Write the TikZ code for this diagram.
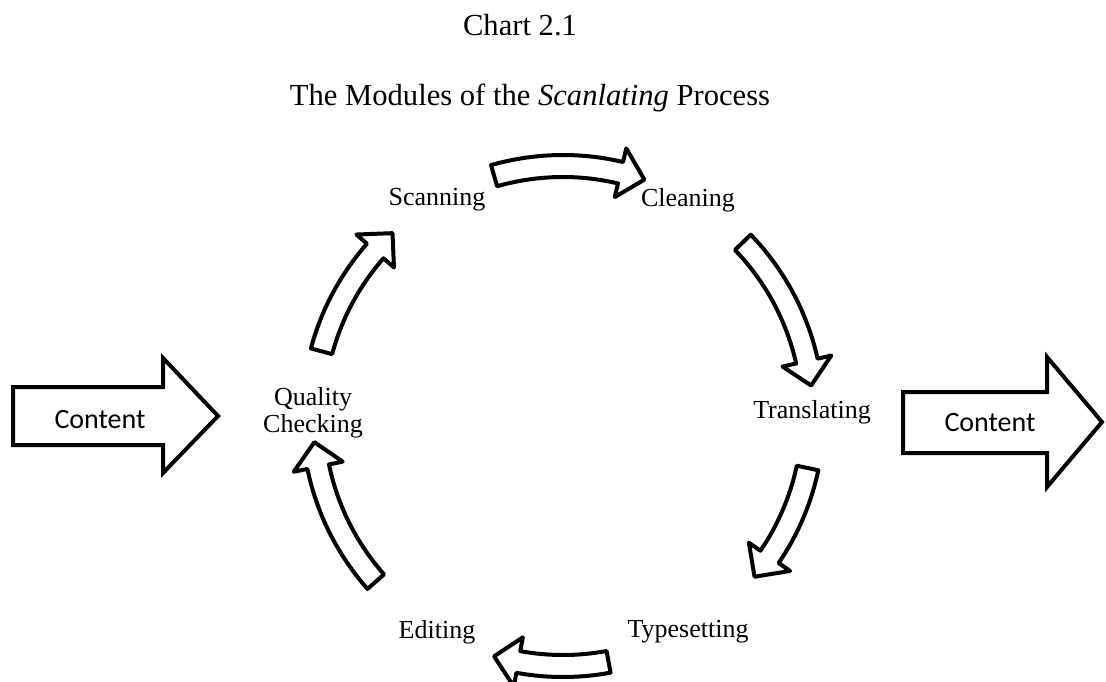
\documentclass[tikz,border=0pt]{standalone}
\usepackage{fontspec}
\setmainfont{Liberation Serif}
\newfontfamily\calibri{Carlito}
\begin{document}
\begin{tikzpicture}[
        x=0.5pt, y=-0.5pt,
        line join=round,
        % 文字样式
        heading/.style={font=\fontsize{15.3}{17}\selectfont, inner sep=0pt},
        label/.style={font=\fontsize{13}{13.5}\selectfont, inner sep=0pt, align=center},
        word/.style={font=\calibri\fontsize{14}{16}\selectfont, inner sep=0pt},
        % 箭头样式
        curved/.style={draw=black, line width=2pt, fill=white},
        block/.style={draw=black, line width=2pt, fill=white, line join=miter},
    ]
    \useasboundingbox (0,0) rectangle (1106,681);

    % 标题
    \node[heading] (chart) at (520,25) {Chart 2.1};
    \node[heading] (subtitle) at (530,98) {The Modules of the \textit{Scanlating} Process};

    % 各模块名称
    \node[label] (scan)  at (437,200) {Scanning};
    \node[label] (clean) at (688,200) {Cleaning};
    \node[label] (trans) at (812,412) {Translating};
    \node[label] (type)  at (688,632) {Typesetting};
    \node[label] (edit)  at (437,632) {Editing};
    \node[label] (qc)    at (313,413) {Quality\\Checking};

    % 圆周上的弯箭头
    \coordinate (M) at (563,416);       % 圆心
    \def\rr{250}                        % 半径
    \def\hw{11}                         % 箭身半宽
    \def\hh{25}                         % 箭头半宽
    \pgfmathsetmacro\ro{\rr+\hw}
    \pgfmathsetmacro\ri{\rr-\hw}
    \pgfmathsetmacro\hout{\rr+\hh}
    \pgfmathsetmacro\hin{\rr-\hh}
    \begin{scope}[shift={(M)}]
    \foreach \aa/\ab in {-106/-71, -44/-7, 12/40, 79.5/106, 138.5/174, 195/227}{
        \pgfmathsetmacro\ah{\ab-5.7}
        \draw[curved] (\aa:\ro) arc[start angle=\aa, end angle=\ah, radius=\ro]
            -- (\ah:\hout) -- (\ab:\rr) -- (\ah:\hin) -- (\ah:\ri)
            arc[start angle=\ah, end angle=\aa, radius=\ri] -- cycle;
    }
    \end{scope}

    % 输入与输出
    \draw[block] (13,387) -- (163,387) -- (163,358) -- (218,416)
        -- (163,473) -- (163,445) -- (13,445) -- cycle;
    \node[word] (cin) at (100,420) {Content};
    \draw[block] (903,392) -- (1047,392) -- (1047,357) -- (1102,422)
        -- (1047,487) -- (1047,453) -- (903,453) -- cycle;
    \node[word] (cout) at (990,423) {Content};
\end{tikzpicture}
\end{document}
